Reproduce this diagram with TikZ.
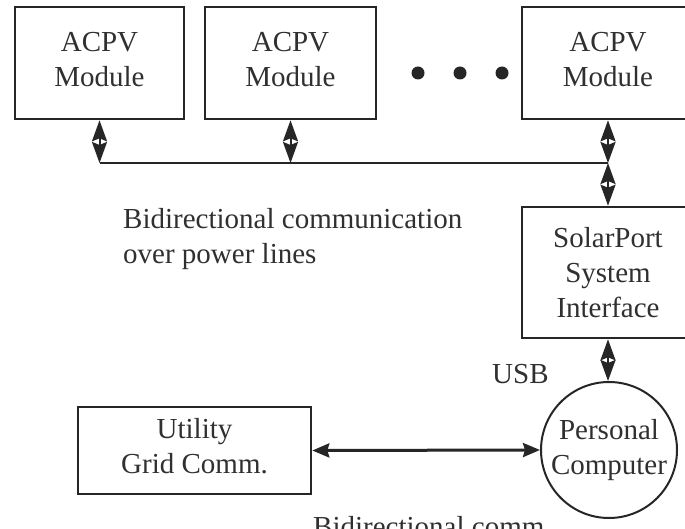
\documentclass[tikz,border=0pt]{standalone}
\usepackage{fontspec}
\setmainfont{Liberation Serif}
\usetikzlibrary{arrows.meta}
\definecolor{ink}{HTML}{262626}
\definecolor{txt}{HTML}{303030}
\begin{document}
\begin{tikzpicture}[x=1pt,y=-1pt,
  every node/.style={font=\fontsize{29}{35}\selectfont, text=txt},
  boxnode/.style={draw=ink, line width=2.6pt, align=center, inner sep=0pt},
  vlink/.style={draw=ink, line width=2pt, {Stealth[length=21pt,width=15pt,inset=3pt]}-{Stealth[length=21pt,width=15pt,inset=3pt]}},
  hlink/.style={draw=ink, line width=3pt, {Stealth[length=17pt,width=14pt,inset=2pt]}-{Stealth[length=17pt,width=14pt,inset=2pt]}},
  lbl/.style={inner sep=0pt, anchor=base west, align=left}
]
\useasboundingbox (0,0) rectangle (685,529);
\begin{scope}
\clip (0,0) rectangle (685,529);
\fill[white] (0,0) rectangle (685,529);
% modules
\node[boxnode, minimum width=169pt, minimum height=112pt, text depth=7pt] (m1) at (99.5,63) {ACPV\\Module};
\node[boxnode, minimum width=171pt, minimum height=112pt, text depth=7pt] (m2) at (290.5,63) {ACPV\\Module};
\node[boxnode, minimum width=172pt, minimum height=112pt, text depth=7pt] (m3) at (608,63) {ACPV\\Module};
% dots
\fill[ink] (418,73) circle (6.5) (460,73) circle (6.5) (502,73) circle (6.5);
% interface
\node[boxnode, minimum width=172pt, minimum height=131pt] (sp) at (608,272.5) {SolarPort\\System\\Interface};
% utility
\node[boxnode, minimum width=233pt, minimum height=87pt, text depth=10pt] (ut) at (194.5,450.5) {Utility\\Grid Comm.};
% PC
\node[draw=ink, line width=2pt, circle, minimum size=136pt, inner sep=0pt, align=center] (pc) at (609,450) {Personal\\Computer};
% bus
\coordinate (b1) at (m1.south |- 0,163);
\coordinate (b2) at (m2.south |- 0,163);
\coordinate (b3) at (m3.south |- 0,163);
\draw[ink, line width=2.2pt] (b1) -- (b3);
\draw[vlink] (m1.south) -- (b1);
\draw[vlink] (m2.south) -- (b2);
\draw[vlink] (m3.south) -- (b3);
\draw[vlink] (b3) -- (sp.north);
\draw[vlink] (sp.south) -- (sp.south |- pc.north);
\draw[hlink] (ut.east) -- (pc.west);
% labels
\node[lbl] (t1) at (123,229) {Bidirectional communication};
\node[lbl] (t2) at (123,264) {over power lines};
\node[lbl] (usb) at (492,383) {USB};
\node[lbl] (t3) at (313,536) {Bidirectional comm.};
\end{scope}
\end{tikzpicture}
\end{document}
